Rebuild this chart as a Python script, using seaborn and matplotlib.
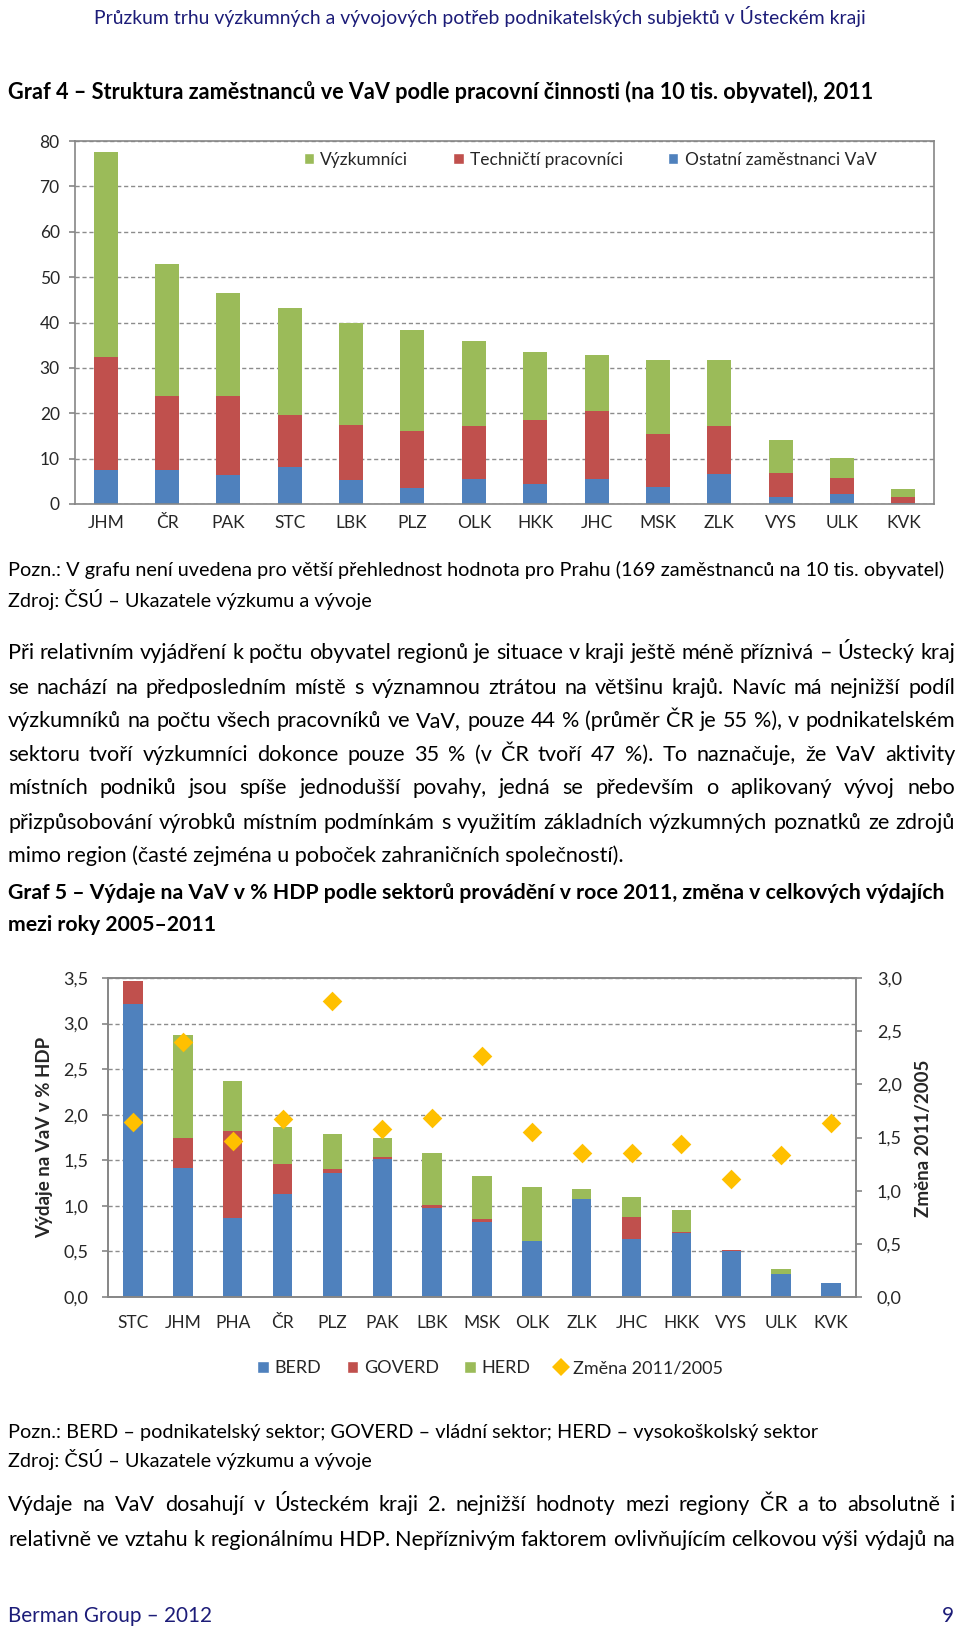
import numpy as np
import matplotlib
matplotlib.use("Agg")
import matplotlib.pyplot as plt
import seaborn as sns
from matplotlib.patches import Patch
from matplotlib.lines import Line2D
from matplotlib.ticker import FuncFormatter, FixedLocator

# ---------------- data ----------------
cats1 = ['JHM', 'ČR', 'PAK', 'STC', 'LBK', 'PLZ', 'OLK', 'HKK', 'JHC', 'MSK', 'ZLK', 'VYS', 'ULK', 'KVK']
ostatni = [7.6, 7.5, 6.4, 8.2, 5.2, 3.5, 5.4, 4.3, 5.4, 3.8, 6.7, 1.6, 2.2, 0.3]
technicti = [24.7, 16.2, 17.5, 11.4, 12.2, 12.5, 11.7, 14.2, 15.0, 11.6, 10.6, 5.2, 3.5, 1.2]
vyzkumnici = [45.2, 29.2, 22.6, 23.7, 22.6, 22.3, 18.9, 15.1, 12.5, 16.4, 14.4, 7.2, 4.4, 1.7]
legend1 = ['Výzkumníci', 'Techničtí pracovníci', 'Ostatní zaměstnanci VaV']
yticks1 = [0, 10, 20, 30, 40, 50, 60, 70, 80]

cats2 = ['STC', 'JHM', 'PHA', 'ČR', 'PLZ', 'PAK', 'LBK', 'MSK', 'OLK', 'ZLK', 'JHC', 'HKK', 'VYS', 'ULK', 'KVK']
berd = [3.21, 1.41, 0.87, 1.13, 1.36, 1.51, 0.98, 0.82, 0.61, 1.08, 0.64, 0.70, 0.51, 0.25, 0.15]
goverd = [0.26, 0.33, 0.95, 0.33, 0.04, 0.03, 0.03, 0.04, 0.0, 0.0, 0.24, 0.01, 0.01, 0.0, 0.0]
herd = [0.0, 1.13, 0.55, 0.40, 0.39, 0.21, 0.57, 0.47, 0.60, 0.10, 0.22, 0.25, 0.0, 0.06, 0.0]
zmena = [1.65, 2.40, 1.47, 1.675, 2.78, 1.58, 1.68, 2.27, 1.55, 1.35, 1.35, 1.44, 1.11, 1.335, 1.635]
legend2 = ['BERD', 'GOVERD', 'HERD', 'Změna 2011/2005']
yticks2_left = [0, 0.5, 1.0, 1.5, 2.0, 2.5, 3.0, 3.5]
yticks2_right = [0, 0.5, 1.0, 1.5, 2.0, 2.5, 3.0]

header = 'Průzkum trhu výzkumných a vývojových potřeb podnikatelských subjektů v Ústeckém kraji'
title1 = 'Graf 4 – Struktura zaměstnanců ve VaV podle pracovní činnosti (na 10 tis. obyvatel), 2011'
note1 = 'Pozn.: V grafu není uvedena pro větší přehlednost hodnota pro Prahu (169 zaměstnanců na 10 tis. obyvatel)'
source = 'Zdroj: ČSÚ – Ukazatele výzkumu a vývoje'
para1 = [
    'Při relativním vyjádření k počtu obyvatel regionů je situace v kraji ještě méně příznivá – Ústecký kraj',
    'se nachází na předposledním místě s významnou ztrátou na většinu krajů. Navíc má nejnižší podíl',
    'výzkumníků na počtu všech pracovníků ve VaV, pouze 44 % (průměr ČR je 55 %), v podnikatelském',
    'sektoru tvoří výzkumníci dokonce pouze 35 % (v ČR tvoří 47 %). To naznačuje, že VaV aktivity',
    'místních podniků jsou spíše jednodušší povahy, jedná se především o aplikovaný vývoj nebo',
    'přizpůsobování výrobků místním podmínkám s využitím základních výzkumných poznatků ze zdrojů',
    'mimo region (časté zejména u poboček zahraničních společností).',
]
title2 = ['Graf 5 – Výdaje na VaV v % HDP podle sektorů provádění v roce 2011, změna v celkových výdajích',
          'mezi roky 2005–2011']
note2 = 'Pozn.: BERD – podnikatelský sektor; GOVERD – vládní sektor; HERD – vysokoškolský sektor'
para2 = ['Výdaje na VaV dosahují v Ústeckém kraji 2. nejnižší hodnoty mezi regiony ČR a to absolutně i',
         'relativně ve vztahu k regionálnímu HDP. Nepříznivým faktorem ovlivňujícím celkovou výši výdajů na']
footer = 'Berman Group – 2012'
page_no = '9'

# ---------------- style ----------------
GREEN, RED, BLUE, GOLD = '#9BBB59', '#C0504D', '#4F81BD', '#FFC000'
GRAY = '#868686'
NAVY = '#1c1c78'

sns.set_style("white")
FONT = ['Lato', 'DejaVu Sans']
plt.rcParams['font.family'] = FONT

W, H = 960, 1629
fig = plt.figure(figsize=(W / 100, H / 100), dpi=100)
fig.patch.set_facecolor('white')
renderer = fig.canvas.get_renderer()


def fx(x):
    return x / W


def fy(y):
    return 1 - y / H


def rect(l, t, r, b):
    return [l / W, 1 - b / H, (r - l) / W, (b - t) / H]


def text_width(s, size, weight='normal'):
    t = fig.text(0, 0, s, fontsize=size, fontweight=weight)
    w = t.get_window_extent(renderer).width
    t.remove()
    return w


def fit_size(s, width, weight='normal', base=12.0):
    return base * width / text_width(s, base, weight)


def base_y(y, size):
    # convert a visual centre (of capitals) to a baseline position, in pixels
    return y + 0.36 * size * 100 / 72


def put(s, x, y, size, weight='normal', color='black', ha='left', **kw):
    fig.text(fx(x), fy(base_y(y, size)), s, fontsize=size, fontweight=weight, color=color,
             ha=ha, va='baseline', **kw)


def justify(s, x0, x1, y, size, weight='normal', color='black'):
    words = s.split(' ')
    widths = [text_width(w, size, weight) for w in words]
    gap = (x1 - x0 - sum(widths)) / (len(words) - 1)
    x = x0
    for w, wd in zip(words, widths):
        fig.text(fx(x), fy(base_y(y, size)), w, fontsize=size, fontweight=weight, color=color,
                 ha='left', va='baseline')
        x += wd + gap


comma = FuncFormatter(lambda v, p: f"{v:.1f}".replace('.', ','))


def style_axis(ax, n, ymax, yticks, size, xpad, ypad):
    ax.set_xlim(-0.5, n - 0.5)
    ax.set_ylim(0, ymax)
    ax.set_yticks(yticks)
    ax.yaxis.grid(True, linestyle=(0, (3, 2)), color='#8c8c8c', linewidth=1)
    ax.xaxis.grid(False)
    ax.set_axisbelow(True)
    for sp in ax.spines.values():
        sp.set_visible(True)
        sp.set_color(GRAY)
        sp.set_linewidth(1.2)
    ax.xaxis.set_minor_locator(FixedLocator(np.arange(-0.5, n, 1)))
    ax.tick_params(axis='x', which='major', length=0, labelsize=size, pad=xpad)
    ax.tick_params(axis='x', which='minor', length=4, width=1.2, color=GRAY, direction='out')
    ax.tick_params(axis='y', which='major', left=True, length=4, width=1.2, color=GRAY,
                   direction='out', labelsize=size, pad=ypad)
    ax.set_xlabel('')
    ax.set_ylabel('')


# ---------------- page text ----------------
put(header, 480, 17, fit_size(header, 767), color=NAVY, ha='center')
put(title1, 8, 91, fit_size(title1, 857, 'bold'), weight='bold')

note_size = fit_size(note1, 934)
put(note1, 8, 569, note_size)
put(source, 8, 600, note_size)

p_size = fit_size(para1[-1], 616)
ys1 = [651, 686, 719, 753, 786, 821, 854]
for line, y in zip(para1[:-1], ys1[:-1]):
    justify(line, 8, 955, y, p_size)
put(para1[-1], 8, ys1[-1], p_size)

t2_size = fit_size(title2[0], 935, 'bold')
put(title2[0], 8, 891, t2_size, weight='bold')
put(title2[1], 8, 923, t2_size, weight='bold')

put(note2, 8, 1431, note_size)
put(source, 8, 1460, note_size)

justify(para2[0], 8, 955, 1503, p_size)
justify(para2[1], 8, 955, 1538, p_size)

f_size = fit_size(footer, 203)
put(footer, 8, 1615, f_size, color=NAVY)
put(page_no, 954, 1615, f_size, color=NAVY, ha='right')

# ---------------- chart 1 ----------------
ax1 = fig.add_axes(rect(75, 141, 934, 504))
o = np.array(ostatni)
t = np.array(technicti)
v = np.array(vyzkumnici)
for vals, col in [(o + t + v, GREEN), (o + t, RED), (o, BLUE)]:
    sns.barplot(x=cats1, y=vals, color=col, saturation=1, width=0.39, errorbar=None,
                linewidth=0, ax=ax1)
style_axis(ax1, len(cats1), 80, yticks1, 12.5, 8, 7)
ax1.legend(handles=[Patch(facecolor=c) for c in (GREEN, RED, BLUE)], labels=legend1,
           loc='center', bbox_to_anchor=(fx(590), fy(160)), bbox_transform=fig.transFigure,
           ncol=3, frameon=False, fontsize=12.5, handlelength=0.6, handleheight=0.6,
           handletextpad=0.35, columnspacing=2.6)

# ---------------- chart 2 ----------------
ax2 = fig.add_axes(rect(108, 978, 856, 1297))
b = np.array(berd)
g = np.array(goverd)
h = np.array(herd)
for vals, col in [(b + g + h, GREEN), (b + g, RED), (b, BLUE)]:
    sns.barplot(x=cats2, y=vals, color=col, saturation=1, width=0.39, errorbar=None,
                linewidth=0, ax=ax2)
style_axis(ax2, len(cats2), 3.5, yticks2_left, 13, 13, 10)
ax2.tick_params(axis='x', labelsize=12.5)
ax2.yaxis.set_major_formatter(comma)

ax3 = ax2.twinx()
sns.scatterplot(x=np.arange(len(cats2)), y=zmena, marker='D', s=100, color=GOLD,
                linewidth=0, legend=False, ax=ax3, zorder=5)
ax3.set_ylim(0, 3.0)
ax3.set_yticks(yticks2_right)
ax3.yaxis.set_major_formatter(comma)
ax3.tick_params(axis='y', which='major', right=True, length=4, width=1.2, color=GRAY,
                direction='out', labelsize=13, pad=11)
for sp in ax3.spines.values():
    sp.set_color(GRAY)
    sp.set_linewidth(1.2)
ax3.set_ylabel('')
ax2.set_xlim(-0.5, len(cats2) - 0.5)

lab_l = 'Výdaje na VaV v % HDP'
lab_r = 'Změna 2011/2005'
fig.text(fx(45), fy(1137), lab_l, rotation=90, fontweight='bold',
         fontsize=fit_size(lab_l, 201, 'bold'), ha='center', va='center')
fig.text(fx(923), fy(1138), lab_r, rotation=90, fontweight='bold',
         fontsize=fit_size(lab_r, 157, 'bold'), ha='center', va='center')

handles2 = [Patch(facecolor=BLUE), Patch(facecolor=RED), Patch(facecolor=GREEN),
            Line2D([], [], marker='D', linestyle='none', color=GOLD, markersize=9, markeredgewidth=0)]
fig.legend(handles=handles2, labels=legend2, loc='center', bbox_to_anchor=(fx(490), fy(1368)),
           ncol=4, frameon=False, fontsize=13, handlelength=0.65, handleheight=0.65,
           handletextpad=0.3, columnspacing=1.4)

fig.savefig('out.png', dpi=100, facecolor='white')
